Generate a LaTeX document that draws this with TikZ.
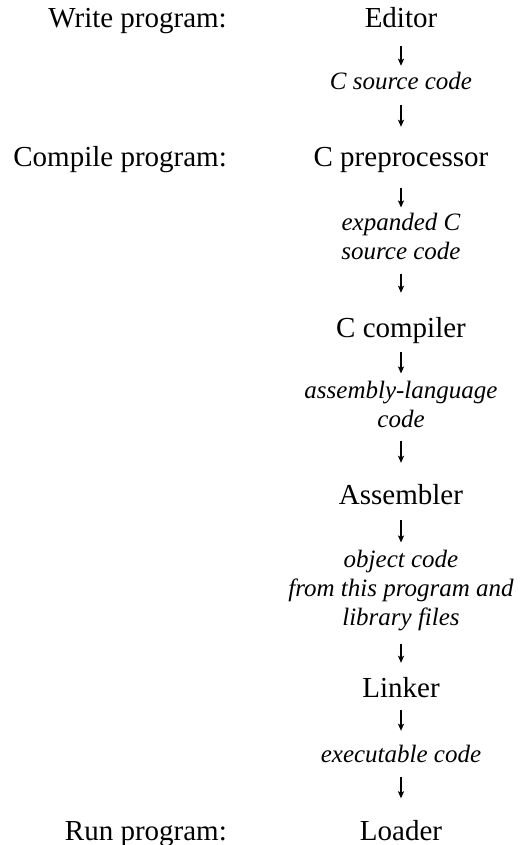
\documentclass[tikz,border=0pt]{standalone}
\usepackage{fontspec}
\setmainfont{Liberation Serif}
\usetikzlibrary{arrows.meta}
\tikzset{
  rom/.style={font=\fontsize{29}{34}\selectfont, inner sep=0pt, text height=19.8pt, text depth=6.3pt, anchor=base},
  ital/.style={font=\fontsize{25}{29}\selectfont\itshape, inner sep=0pt, text height=17.1pt, text depth=5.4pt, anchor=base},
  italml/.style={font=\fontsize{25}{29}\selectfont\itshape, inner sep=0pt, align=center, anchor=north},
  lbl/.style={font=\fontsize{29}{34}\selectfont, inner sep=0pt, anchor=base east},
  flow/.style={line width=1.3pt, -{Stealth[length=7pt,width=6pt,inset=1.5pt]}}
}
\begin{document}
\begin{tikzpicture}[x=1pt,y=-1pt]
\useasboundingbox (0,0) rectangle (521,845);
% left labels
\node[lbl] (lw) at (227,28) {Write program:};
\node[lbl] (lc) at (227,167) {Compile program:};
\node[lbl] (lr) at (227,840) {Run program:};
% right column
\node[rom] (edit) at (401,28) {Editor};
\node[ital] (src) at (401,90) {C source code};
\node[rom] (cpp) at (401,167) {C preprocessor};
\node[italml] (exp) at (401,212.9) {expanded C\\source code};
\node[rom] (cc) at (401,337) {C compiler};
\node[italml] (asm) at (401,380.9) {assembly-language\\code};
\node[rom] (as) at (401,504) {Assembler};
\node[italml] (obj) at (401,549.9) {object code\\from this program and\\library files};
\node[rom] (ld) at (401,697) {Linker};
\node[ital] (exe) at (401,762) {executable code};
\node[rom] (load) at (401,840) {Loader};
% arrows
\draw[flow, shorten <=11.7pt, shorten >=6.9pt] (edit) -- (src);
\draw[flow, shorten <=9.6pt, shorten >=20.2pt] (src) -- (cpp);
\draw[flow, shorten <=14.7pt, shorten >=5.4pt] (cpp) -- (exp);
\draw[flow, shorten <=13.7pt, shorten >=24.2pt] (exp) -- (cc);
\draw[flow, shorten <=8.7pt, shorten >=7.4pt] (cc) -- (asm);
\draw[flow, shorten <=12.7pt, shorten >=21.2pt] (asm) -- (as);
\draw[flow, shorten <=9.2pt, shorten >=7.4pt] (as) -- (obj);
\draw[flow, shorten <=12.6pt, shorten >=14.2pt] (obj) -- (ld);
\draw[flow, shorten <=6.2pt, shorten >=13.9pt] (ld) -- (exe);
\draw[flow, shorten <=9.6pt, shorten >=21.7pt] (exe) -- (load);
\end{tikzpicture}
\end{document}
